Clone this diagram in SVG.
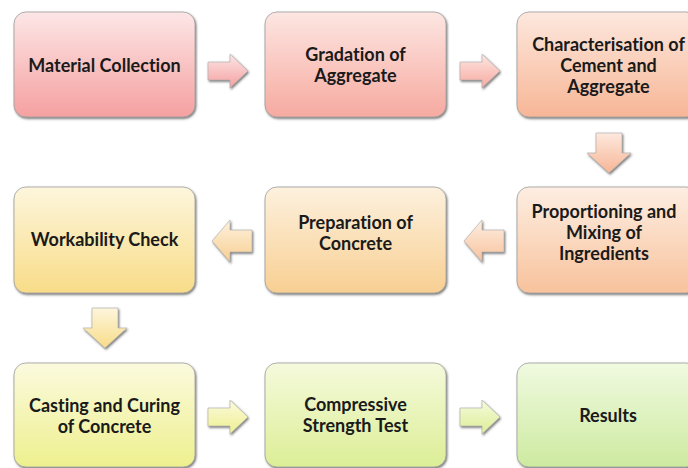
<svg xmlns="http://www.w3.org/2000/svg" width="688" height="468" viewBox="0 0 688 468">
<style>
  .box { stroke: #a0a0a0; stroke-width: 0.8; filter: url(#sh); }
  .arr { stroke: #a8a8a8; stroke-width: 0.6; filter: url(#sh); }
  text { font-family: Lato, "Open Sans", sans-serif; font-weight: bold; font-size: 18px; fill: #1a1a1a; text-anchor: middle; font-variant-ligatures: none; font-feature-settings: "liga" 0, "clig" 0; }
</style>
<defs>
  <filter id="sh" x="-20%" y="-20%" width="140%" height="140%">
    <feDropShadow dx="1" dy="1.5" stdDeviation="1.2" flood-color="#555" flood-opacity="0.8"/>
  </filter>
  <linearGradient id="g1" x1="0" y1="0" x2="0" y2="1"><stop offset="0" stop-color="#fde6e6"/><stop offset="1" stop-color="#f5a0a0"/></linearGradient>
  <linearGradient id="g2" x1="0" y1="0" x2="0" y2="1"><stop offset="0" stop-color="#fde6e2"/><stop offset="1" stop-color="#f6aaa0"/></linearGradient>
  <linearGradient id="g3" x1="0" y1="0" x2="0" y2="1"><stop offset="0" stop-color="#fde8de"/><stop offset="1" stop-color="#f7b696"/></linearGradient>
  <linearGradient id="g4" x1="0" y1="0" x2="0" y2="1"><stop offset="0" stop-color="#fdeee2"/><stop offset="1" stop-color="#f8c29c"/></linearGradient>
  <linearGradient id="g5" x1="0" y1="0" x2="0" y2="1"><stop offset="0" stop-color="#fdf1de"/><stop offset="1" stop-color="#f8cf92"/></linearGradient>
  <linearGradient id="g6" x1="0" y1="0" x2="0" y2="1"><stop offset="0" stop-color="#fdf6dc"/><stop offset="1" stop-color="#f8dc88"/></linearGradient>
  <linearGradient id="g7" x1="0" y1="0" x2="0" y2="1"><stop offset="0" stop-color="#fbfade"/><stop offset="1" stop-color="#eef08e"/></linearGradient>
  <linearGradient id="g8" x1="0" y1="0" x2="0" y2="1"><stop offset="0" stop-color="#f5fadc"/><stop offset="1" stop-color="#dcee96"/></linearGradient>
  <linearGradient id="g9" x1="0" y1="0" x2="0" y2="1"><stop offset="0" stop-color="#f0fae0"/><stop offset="1" stop-color="#cdeaa0"/></linearGradient>
  <path id="ar" d="M0,-9 L22,-9 L22,-17 L40,0 L22,17 L22,9 L0,9 Z"/>
  <path id="al" d="M40,-11 L18,-11 L18,-21 L0,0 L18,21 L18,11 L40,11 Z"/>
  <path id="ad" d="M-13,0 L13,0 L13,20 L22,20 L0,40 L-22,20 L-13,20 Z"/>
</defs>

<g id="connectors">
  <use href="#ar" class="arr" x="208" y="71" fill="url(#g1)"/>
  <use href="#ar" class="arr" x="460" y="71" fill="url(#g2)"/>
  <use href="#ad" class="arr" x="609" y="133" fill="url(#g3)"/>
  <use href="#al" class="arr" x="464" y="241" fill="url(#g4)"/>
  <use href="#al" class="arr" x="212" y="241" fill="url(#g5)"/>
  <use href="#ad" class="arr" x="105" y="308" fill="url(#g6)"/>
  <use href="#ar" class="arr" x="208" y="417" fill="url(#g7)"/>
  <use href="#ar" class="arr" x="460" y="417" fill="url(#g8)"/>
</g>

<g id="n1"><rect class="box" x="14" y="12" width="181" height="105" rx="12" fill="url(#g1)"/>
  <text x="104.5" y="72">Material Collection</text></g>
<g id="n2"><rect class="box" x="265" y="12" width="181" height="105" rx="12" fill="url(#g2)"/>
  <text x="355.5" y="61">Gradation of</text><text x="355.5" y="82">Aggregate</text></g>
<g id="n3"><rect class="box" x="517" y="12" width="181" height="105" rx="12" fill="url(#g3)"/>
  <text x="608.5" y="51">Characterisation of</text><text x="608.5" y="72">Cement and</text><text x="608.5" y="93">Aggregate</text></g>
<g id="n4"><rect class="box" x="517" y="187" width="181" height="106" rx="12" fill="url(#g4)"/>
  <text x="604" y="218">Proportioning and</text><text x="604" y="239">Mixing of</text><text x="604" y="260">Ingredients</text></g>
<g id="n5"><rect class="box" x="265" y="187" width="181" height="106" rx="12" fill="url(#g5)"/>
  <text x="355.5" y="229">Preparation of</text><text x="355.5" y="250">Concrete</text></g>
<g id="n6"><rect class="box" x="14" y="187" width="181" height="106" rx="12" fill="url(#g6)"/>
  <text x="104.5" y="246">Workability Check</text></g>
<g id="n7"><rect class="box" x="14" y="363" width="181" height="104" rx="12" fill="url(#g7)"/>
  <text x="104.5" y="412">Casting and Curing</text><text x="104.5" y="433">of Concrete</text></g>
<g id="n8"><rect class="box" x="265" y="363" width="181" height="104" rx="12" fill="url(#g8)"/>
  <text x="355.5" y="411">Compressive</text><text x="355.5" y="432">Strength Test</text></g>
<g id="n9"><rect class="box" x="517" y="363" width="181" height="104" rx="12" fill="url(#g9)"/>
  <text x="608" y="422">Results</text></g>
</svg>
